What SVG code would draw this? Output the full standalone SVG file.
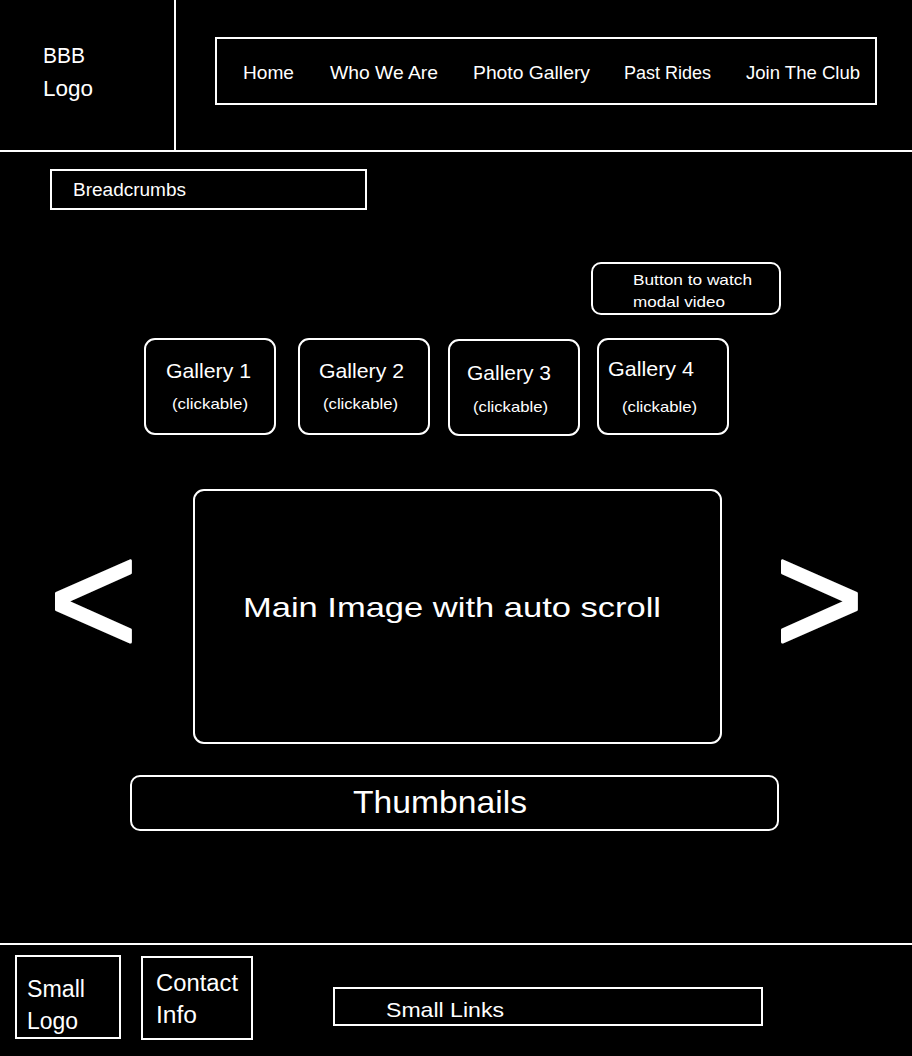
<svg xmlns="http://www.w3.org/2000/svg" width="912" height="1056" viewBox="0 0 912 1056">
<style>
.box{fill:none;stroke:#fff;stroke-width:2}
.ln{stroke:#fff;stroke-width:2}
text{fill:#fff;font-family:"Liberation Sans",Arial,sans-serif}
.chev{stroke:#fff;stroke-width:3;stroke-linejoin:round}
</style>
<rect width="912" height="1056" fill="#000"/>
<g id="layout-lines">
<line class="ln" x1="175" y1="0" x2="175" y2="151"/>
<line class="ln" x1="0" y1="151" x2="912" y2="151"/>
<line class="ln" x1="0" y1="944" x2="912" y2="944"/>
</g>
<g id="logo">
<text x="43" y="63" font-size="22" textLength="42" lengthAdjust="spacingAndGlyphs">BBB</text>
<text x="43" y="96" font-size="22" textLength="50" lengthAdjust="spacingAndGlyphs">Logo</text>
</g>
<g id="nav">
<rect class="box" x="216" y="38" width="660" height="66"/>
<text x="243" y="79" font-size="19" textLength="51" lengthAdjust="spacingAndGlyphs">Home</text>
<text x="330" y="79" font-size="19" textLength="108" lengthAdjust="spacingAndGlyphs">Who We Are</text>
<text x="473" y="79" font-size="19" textLength="117" lengthAdjust="spacingAndGlyphs">Photo Gallery</text>
<text x="624" y="79" font-size="19" textLength="87" lengthAdjust="spacingAndGlyphs">Past Rides</text>
<text x="746" y="79" font-size="19" textLength="114" lengthAdjust="spacingAndGlyphs">Join The Club</text>
</g>
<g id="breadcrumbs">
<rect class="box" x="51" y="170" width="315" height="39"/>
<text x="73" y="196" font-size="18" textLength="113" lengthAdjust="spacingAndGlyphs">Breadcrumbs</text>
</g>
<g id="video-button">
<rect class="box" x="592" y="263" width="188" height="51" rx="9"/>
<text x="633" y="285" font-size="15" textLength="119" lengthAdjust="spacingAndGlyphs">Button to watch</text>
<text x="633" y="307" font-size="15" textLength="92" lengthAdjust="spacingAndGlyphs">modal video</text>
</g>
<g id="gallery-1">
<rect class="box" x="145" y="339" width="130" height="95" rx="10"/>
<text x="166" y="378" font-size="21" textLength="85" lengthAdjust="spacingAndGlyphs">Gallery 1</text>
<text x="172" y="409" font-size="15" textLength="76" lengthAdjust="spacingAndGlyphs">(clickable)</text>
</g>
<g id="gallery-2">
<rect class="box" x="299" y="339" width="130" height="95" rx="10"/>
<text x="319" y="378" font-size="21" textLength="85" lengthAdjust="spacingAndGlyphs">Gallery 2</text>
<text x="323" y="409" font-size="15" textLength="75" lengthAdjust="spacingAndGlyphs">(clickable)</text>
</g>
<g id="gallery-3">
<rect class="box" x="449" y="340" width="130" height="95" rx="10"/>
<text x="467" y="380" font-size="21" textLength="84" lengthAdjust="spacingAndGlyphs">Gallery 3</text>
<text x="473" y="412" font-size="15" textLength="75" lengthAdjust="spacingAndGlyphs">(clickable)</text>
</g>
<g id="gallery-4">
<rect class="box" x="598" y="339" width="130" height="95" rx="10"/>
<text x="608" y="376" font-size="21" textLength="86" lengthAdjust="spacingAndGlyphs">Gallery 4</text>
<text x="622" y="412" font-size="15" textLength="75" lengthAdjust="spacingAndGlyphs">(clickable)</text>
</g>
<g id="main-image">
<rect class="box" x="194" y="490" width="527" height="253" rx="10"/>
<text x="243" y="617" font-size="28" textLength="418" lengthAdjust="spacingAndGlyphs">Main Image with auto scroll</text>
</g>
<g id="prev-arrow">
<text class="chev" transform="translate(49,654) scale(1,1.05)" font-size="152">&lt;</text>
</g>
<g id="next-arrow">
<text class="chev" transform="translate(775,654) scale(1,1.05)" font-size="152">&gt;</text>
</g>
<g id="thumbnails">
<rect class="box" x="131" y="776" width="647" height="54" rx="9"/>
<text x="353" y="813" font-size="32" textLength="174" lengthAdjust="spacingAndGlyphs">Thumbnails</text>
</g>
<g id="small-logo">
<rect class="box" x="16" y="956" width="104" height="82"/>
<text x="27" y="997" font-size="23" textLength="58" lengthAdjust="spacingAndGlyphs">Small</text>
<text x="27" y="1029" font-size="23" textLength="51" lengthAdjust="spacingAndGlyphs">Logo</text>
</g>
<g id="contact-info">
<rect class="box" x="142" y="957" width="110" height="82"/>
<text x="156" y="991" font-size="23" textLength="82" lengthAdjust="spacingAndGlyphs">Contact</text>
<text x="156" y="1023" font-size="23" textLength="41" lengthAdjust="spacingAndGlyphs">Info</text>
</g>
<g id="small-links">
<rect class="box" x="334" y="988" width="428" height="37"/>
<text x="386" y="1017" font-size="21" textLength="118" lengthAdjust="spacingAndGlyphs">Small Links</text>
</g>
<g id="connectors"></g>
</svg>
